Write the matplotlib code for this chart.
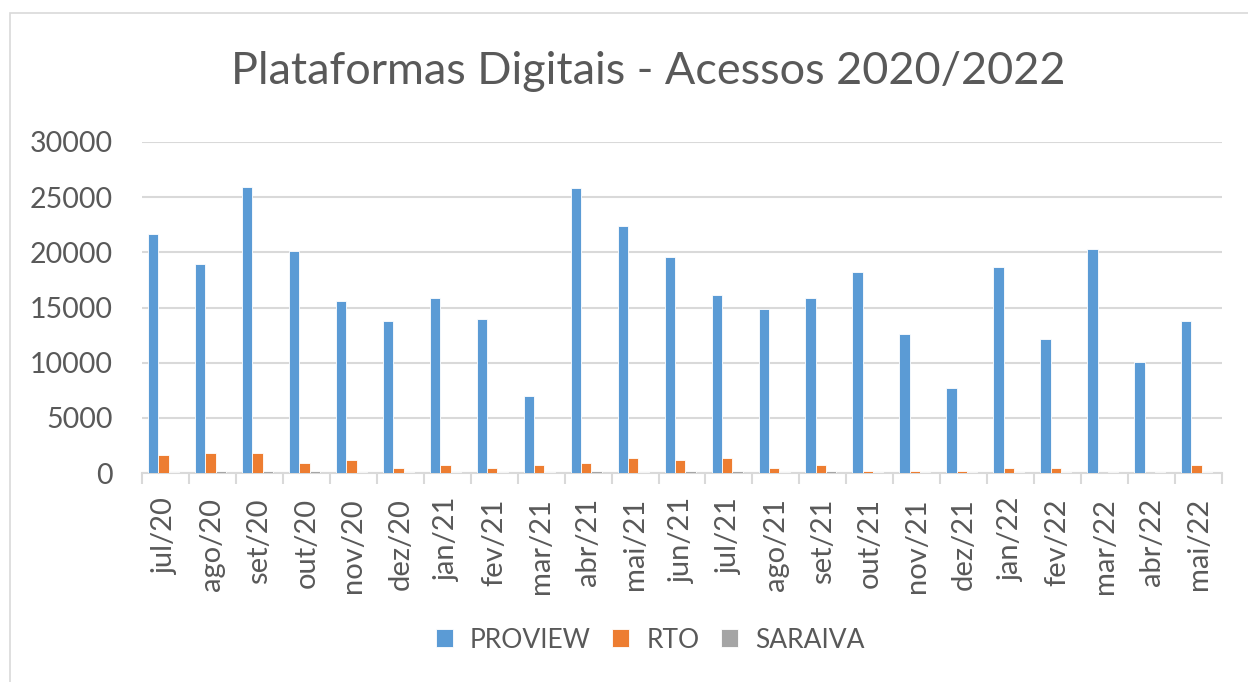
import matplotlib
matplotlib.use('Agg')
import matplotlib.pyplot as plt
from matplotlib.patches import Rectangle
import numpy as np

plt.rcParams['font.family'] = ['Lato', 'DejaVu Sans']

months = ['jul/20', 'ago/20', 'set/20', 'out/20', 'nov/20', 'dez/20',
          'jan/21', 'fev/21', 'mar/21', 'abr/21', 'mai/21', 'jun/21',
          'jul/21', 'ago/21', 'set/21', 'out/21', 'nov/21', 'dez/21',
          'jan/22', 'fev/22', 'mar/22', 'abr/22', 'mai/22']
proview = [21700, 18900, 25900, 20100, 15600, 13750, 15850, 14000, 7000,
           25850, 22350, 19550, 16100, 14900, 15850, 18200, 12600, 7700,
           18650, 12150, 20300, 10050, 13750]
rto = [1630, 1840, 1840, 930, 1180, 450, 690, 450, 690,
       930, 1390, 1180, 1390, 450, 690, 210, 210, 210,
       450, 450, 40, 40, 690]
saraiva = [50, 210, 210, 210, 50, 50, 50, 50, 50,
           210, 50, 210, 210, 50, 210, 50, 50, 50,
           50, 50, 50, 50, 50]
series_names = ['PROVIEW', 'RTO', 'SARAIVA']
colors = ['#5B9BD5', '#ED7D31', '#A5A5A5']
txt = '#595959'
grid = '#D9D9D9'

W, H = 1248, 682
fig = plt.figure(figsize=(W / 100, H / 100), dpi=100)
ax = fig.add_axes([142 / W, 1 - 473 / H, (1222 - 142) / W, (473 - 142) / H])

# chart border (cut at right/bottom in the reference)
fig.patches.append(Rectangle((10 / W, -0.1), 1.2, 1 - 13 / H + 0.1,
                             transform=fig.transFigure, fill=False,
                             edgecolor=grid, linewidth=1.2))

x = np.arange(len(months))
w = 0.22
bars = []
for k, (vals, c) in enumerate(zip([proview, rto, saraiva], colors)):
    b = ax.bar(x + (k - 1) * w - 0.04, vals, width=w, color=c,
               edgecolor='white', linewidth=0.6, zorder=3)
    bars.append(b)

ax.set_xlim(-0.5, len(months) - 0.5)
ax.set_ylim(0, 30000)
ax.set_yticks(np.arange(0, 30001, 5000))
ax.yaxis.grid(True, color=grid, linewidth=1.5, zorder=0)
ax.set_axisbelow(True)
for s in ['top', 'right', 'left']:
    ax.spines[s].set_visible(False)
ax.spines['bottom'].set_color(grid)
ax.spines['bottom'].set_linewidth(1.5)

ax.set_xticks(x)
ax.set_xticklabels(months, rotation=90, va='top', ha='center')
ax.set_xticks(np.arange(-0.5, len(months)), minor=True)
ax.tick_params(axis='x', which='major', length=0, pad=18, labelsize=21,
               labelcolor=txt)
ax.tick_params(axis='x', which='minor', length=8, width=1.5, color=grid)
ax.tick_params(axis='y', length=0, pad=21, labelsize=20.5, labelcolor=txt)

fig.text(648 / W, 1 - 72 / H, 'Plataformas Digitais - Acessos 2020/2022',
         ha='center', va='center', fontsize=32.4, color=txt)

fig.legend(bars, series_names, loc='center', bbox_to_anchor=(650 / W, 1 - 640 / H),
           ncol=3, frameon=False, fontsize=19, labelcolor=txt,
           handlelength=0.65, handleheight=0.65, handletextpad=0.65,
           columnspacing=0.8)

fig.savefig('out.png', dpi=100)
